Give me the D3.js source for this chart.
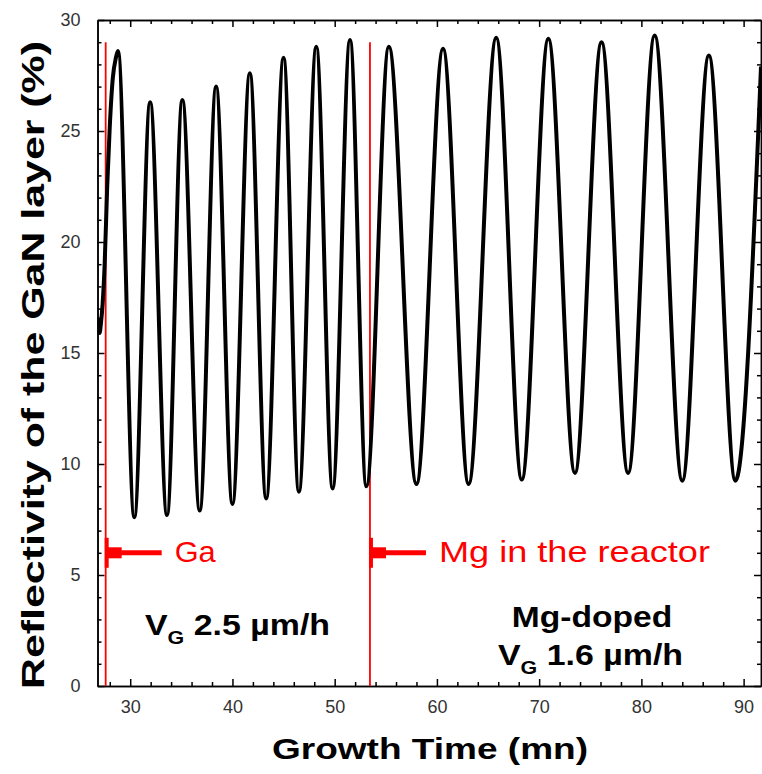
<!DOCTYPE html>
<html lang="en">
<head>
  <meta charset="utf-8">
  <title>Reflectivity of the GaN layer</title>
  <script src="https://d3js.org/d3.v7.min.js"></script>
  <style>
    body { margin: 0; background: #fff; }
    svg text { font-family: "Liberation Sans", Arial, sans-serif; }
    .axis path, .axis line { stroke: #000; stroke-width: 1.5px; }
    .axis text { font-size: 18px; fill: #333; }
  </style>
</head>
<body>
  <div id="chart"></div>
  <script>
    // growth time (mn) and reflectivity (%), mostly at the extrema
    var times = [26.85, 27.0, 27.15, 27.3, 27.5, 27.75, 28.0, 28.3, 28.6, 28.8,
                 30.4, 31.95, 33.6, 35.1, 36.8, 38.4, 40.0, 41.7, 43.3, 45.0,
                 46.5, 48.2, 49.8, 51.5, 53.1, 55.3, 58.0, 60.6, 63.1, 65.8,
                 68.3, 70.9, 73.5, 76.1, 78.7, 81.3, 84.0, 86.6, 89.2, 91.7];
    var refl  = [16.6, 15.9, 16.4, 17.2, 19.0, 22.5, 25.2, 27.4, 28.3, 28.6,
                 7.6, 26.3, 7.7, 26.4, 7.9, 27.0, 8.2, 27.6, 8.45, 28.3,
                 8.75, 28.8, 8.9, 29.1, 9.0, 28.8, 9.1, 28.7, 9.1, 29.2,
                 9.3, 29.15, 9.6, 29.0, 9.6, 29.3, 9.25, 28.4, 9.25, 27.9];

    // markers: Ga opening and Mg introduced
    var markerTimes = [27.6, 53.45];
    var markerTop = 29;
    var markerLabels = ["Ga", "Mg in the reactor"];

    var xTicks = [30, 40, 50, 60, 70, 80, 90];
    var yTicks = [0, 5, 10, 15, 20, 25, 30];

    var width = 762, height = 774;
    var pLeft = 97.5, pRight = 761, pTop = 20, pBottom = 686;

    var svg = d3.select("#chart").append("svg")
      .attr("width", width)
      .attr("height", height);

    var x = d3.scaleLinear().domain([26.8, 91.7]).range([pLeft, pRight]);
    var y = d3.scaleLinear().domain([0, 30]).range([pBottom, pTop]);

    var xMinor = d3.range(28, 92, 2).filter(d => d % 10 !== 0);
    var yMinor = d3.range(0, 31, 1).filter(d => d % 5 !== 0);

    svg.append("clipPath").attr("id", "clip")
      .append("rect")
      .attr("x", pLeft).attr("y", pTop)
      .attr("width", pRight - pLeft).attr("height", pBottom - pTop);

    // axes, ticks all pointing inward
    svg.append("g").attr("class", "axis")
      .attr("transform", `translate(0,${pBottom})`)
      .call(d3.axisBottom(x).tickValues(xTicks).tickSize(-7).tickSizeOuter(0).tickPadding(14));
    svg.append("g").attr("class", "axis")
      .attr("transform", `translate(0,${pBottom})`)
      .call(d3.axisBottom(x).tickValues(xMinor).tickSize(-4).tickSizeOuter(0).tickFormat(""));
    svg.append("g").attr("class", "axis")
      .attr("transform", `translate(0,${pTop})`)
      .call(d3.axisTop(x).tickValues(xTicks).tickSize(-7).tickSizeOuter(0).tickFormat(""));
    svg.append("g").attr("class", "axis")
      .attr("transform", `translate(0,${pTop})`)
      .call(d3.axisTop(x).tickValues(xMinor).tickSize(-4).tickSizeOuter(0).tickFormat(""));

    svg.append("g").attr("class", "axis")
      .attr("transform", `translate(${pLeft},0)`)
      .call(d3.axisLeft(y).tickValues(yTicks).tickSize(-7).tickSizeOuter(0).tickPadding(17));
    svg.append("g").attr("class", "axis")
      .attr("transform", `translate(${pLeft},0)`)
      .call(d3.axisLeft(y).tickValues(yMinor).tickSize(-4).tickSizeOuter(0).tickFormat(""));
    svg.append("g").attr("class", "axis")
      .attr("transform", `translate(${pRight},0)`)
      .call(d3.axisRight(y).tickValues(yTicks).tickSize(-7).tickSizeOuter(0).tickFormat(""));
    svg.append("g").attr("class", "axis")
      .attr("transform", `translate(${pRight},0)`)
      .call(d3.axisRight(y).tickValues(yMinor).tickSize(-4).tickSizeOuter(0).tickFormat(""));

    // red marker lines + arrows
    var marks = svg.append("g");
    markerTimes.forEach(function(t, i) {
      var mx = x(t), ay = y(6);
      marks.append("line")
        .attr("x1", mx).attr("x2", mx)
        .attr("y1", y(markerTop)).attr("y2", pBottom)
        .attr("stroke", "#ff0000").attr("stroke-width", 1.8);
      marks.append("rect")
        .attr("x", mx - 1).attr("y", ay - 15)
        .attr("width", 4).attr("height", 30).attr("fill", "#ff0000");
      marks.append("rect")
        .attr("x", mx + 2).attr("y", ay - 5.5)
        .attr("width", 14).attr("height", 11).attr("fill", "#ff0000");
      marks.append("line")
        .attr("x1", mx + 15).attr("x2", mx + 56)
        .attr("y1", ay).attr("y2", ay)
        .attr("stroke", "#ff0000").attr("stroke-width", 5);
      marks.append("text")
        .attr("x", mx + 69).attr("y", 562)
        .attr("font-size", 30)
        .attr("fill", "#ff0000")
        .attr("textLength", i === 0 ? 41 : 271)
        .attr("lengthAdjust", "spacingAndGlyphs")
        .text(markerLabels[i]);
    });

    // the reflectivity trace
    var line = d3.line()
      .x((d, i) => x(times[i]))
      .y(d => y(d))
      .curve(d3.curveMonotoneX);

    svg.append("path")
      .datum(refl)
      .attr("clip-path", "url(#clip)")
      .attr("fill", "none")
      .attr("stroke", "#000")
      .attr("stroke-width", 4)
      .attr("stroke-linejoin", "round")
      .attr("d", line);

    // growth rate annotations
    function vg(xPos, yPos, rest) {
      var t = svg.append("text")
        .attr("transform", `translate(${xPos},${yPos}) scale(1.13,1)`)
        .attr("font-size", 30)
        .attr("font-weight", "bold")
        .attr("fill", "#000");
      t.append("tspan").text("V");
      t.append("tspan").attr("dy", 9).attr("font-size", 19).text("G");
      t.append("tspan").attr("dy", -9).text(rest);
      return t;
    }
    vg(145, 635, " 2.5 \u00b5m/h");
    svg.append("text")
      .attr("transform", "translate(592,627) scale(1.12,1)")
      .attr("text-anchor", "middle")
      .attr("font-size", 30)
      .attr("font-weight", "bold")
      .text("Mg-doped");
    vg(498, 665, " 1.6 \u00b5m/h");

    // axis titles
    svg.append("text")
      .attr("x", 430).attr("y", 759)
      .attr("text-anchor", "middle")
      .attr("font-size", 30)
      .attr("font-weight", "bold")
      .attr("textLength", 316)
      .attr("lengthAdjust", "spacingAndGlyphs")
      .text("Growth Time (mn)");

    svg.append("text")
      .attr("transform", "translate(44,365) rotate(-90)")
      .attr("text-anchor", "middle")
      .attr("font-size", 32)
      .attr("font-weight", "bold")
      .attr("textLength", 648)
      .attr("lengthAdjust", "spacingAndGlyphs")
      .text("Reflectivity of the GaN layer (%)");
  </script>
</body>
</html>
